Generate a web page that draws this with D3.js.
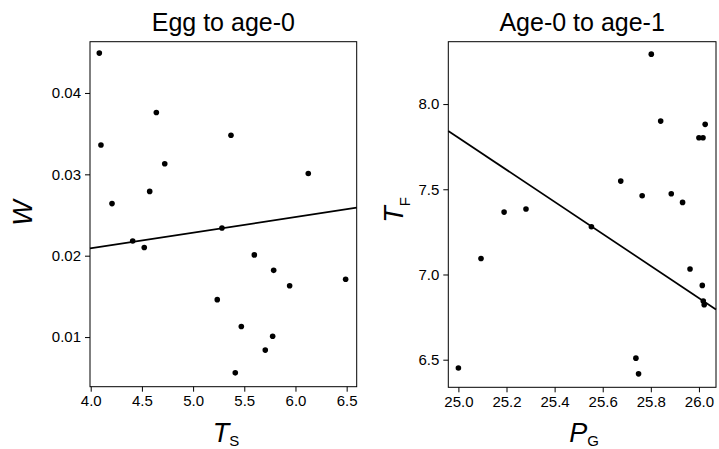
<!doctype html>
<html>
<head>
<meta charset="utf-8"/>
<title>Egg to age-0 / Age-0 to age-1</title>
<script src="https://d3js.org/d3.v7.min.js"></script>
<style>
  body { margin: 0; background: #fff; }
  svg text { font-family: "Liberation Sans", Arial, Helvetica, sans-serif; fill: #000; }
</style>
</head>
<body>
<script>
// ---- data ----
var eggTs = [4.084, 4.10, 4.208, 4.41, 4.523, 4.576, 4.641, 4.723, 5.236, 5.282,
             5.370, 5.412, 5.471, 5.598, 5.705, 5.777, 5.787, 5.943, 6.125, 6.49];
var eggW  = [0.0449, 0.0336, 0.0264, 0.0218, 0.0210, 0.0279, 0.0376, 0.0313, 0.0146, 0.0234,
             0.0348, 0.0056, 0.0113, 0.0201, 0.0084, 0.0101, 0.0182, 0.0163, 0.0301, 0.0171];
var eggFitX = [3.993, 6.598];
var eggFitY = [0.0209, 0.0259];
var eggXTicks = [4.0, 4.5, 5.0, 5.5, 6.0, 6.5];
var eggYTicks = [0.01, 0.02, 0.03, 0.04];

var ageP = [25.0, 25.094, 25.19, 25.281, 25.553, 25.675, 25.738, 25.749, 25.764, 25.802,
            25.841, 25.885, 25.932, 25.963, 26.0, 26.017, 26.026, 26.014, 26.018, 26.022];
var ageT = [6.451, 7.094, 7.366, 7.384, 7.280, 7.548, 6.509, 6.417, 7.462, 8.293,
            7.900, 7.474, 7.423, 7.032, 7.802, 7.802, 7.881, 6.936, 6.844, 6.822];
var ageFitX = [24.958, 26.071];
var ageFitY = [7.842, 6.795];
var ageXTicks = [25.0, 25.2, 25.4, 25.6, 25.8, 26.0];
var ageYTicks = [6.5, 7.0, 7.5, 8.0];

var svg = d3.select("body").append("svg")
    .attr("width", 719)
    .attr("height", 449);

function panel(opt)
{
  var x = d3.scaleLinear().domain(opt.xDom).range([opt.left, opt.right]);
  var y = d3.scaleLinear().domain(opt.yDom).range([opt.bottom, opt.top]);
  var g = svg.append("g");

  // box
  g.append("rect")
    .attr("x", opt.left).attr("y", opt.top)
    .attr("width", opt.right - opt.left).attr("height", opt.bottom - opt.top)
    .attr("fill", "none").attr("stroke", "#000").attr("stroke-width", 1);

  var ax = g.append("g")
    .attr("transform", "translate(0," + opt.bottom + ")")
    .call(d3.axisBottom(x).tickValues(opt.xTicks).tickFormat(d3.format(opt.xFmt))
      .tickSizeOuter(0).tickSize(5).tickPadding(4));
  var ay = g.append("g")
    .attr("transform", "translate(" + opt.left + ",0)")
    .call(d3.axisLeft(y).tickValues(opt.yTicks).tickFormat(d3.format(opt.yFmt))
      .tickSizeOuter(0).tickSize(5).tickPadding(4));
  [ax, ay].forEach(function(a) {
    a.select(".domain").remove();
    a.selectAll("text").style("font-size", "15px").style("font-family", null);
  });

  // fit line
  var line = d3.line().x(function(d) { return x(d[0]); }).y(function(d) { return y(d[1]); });
  g.append("path")
    .attr("d", line(opt.fitX.map(function(v, i) { return [v, opt.fitY[i]]; })))
    .attr("fill", "none").attr("stroke", "#000").attr("stroke-width", 1.7);

  // points
  g.selectAll("circle.pt")
    .data(opt.xs.map(function(v, i) { return [v, opt.ys[i]]; }))
    .enter().append("circle")
    .attr("cx", function(d) { return x(d[0]); })
    .attr("cy", function(d) { return y(d[1]); })
    .attr("r", 2.8)
    .attr("fill", "#000");

  // title
  g.append("text")
    .attr("x", (opt.left + opt.right) / 2).attr("y", 31)
    .attr("text-anchor", "middle")
    .style("font-size", "25px")
    .text(opt.title);

  // x label
  var xl = g.append("text")
    .attr("x", opt.xLabX).attr("y", 442)
    .attr("text-anchor", "middle")
    .style("font-size", "27px");
  xl.append("tspan").style("font-style", "italic").text(opt.xLab[0]);
  xl.append("tspan").attr("dy", 4).style("font-size", "15px").text(opt.xLab[1]);

  // y label
  var yl = g.append("text")
    .attr("transform", "translate(" + opt.yLabX + "," + opt.yLabY + ") rotate(-90)")
    .attr("text-anchor", "middle")
    .style("font-size", "27px");
  yl.append("tspan").style("font-style", "italic").text(opt.yLab[0]);
  if (opt.yLab[1]) {
    yl.append("tspan").attr("dy", 7).style("font-size", "15px").text(opt.yLab[1]);
  }
}

panel({
  left: 90, right: 356.7, top: 41.7, bottom: 386.7,
  xDom: [3.993, 6.598], yDom: [0.0039, 0.0463],
  xTicks: eggXTicks, yTicks: eggYTicks, xFmt: ".1f", yFmt: ".2f",
  xs: eggTs, ys: eggW, fitX: eggFitX, fitY: eggFitY,
  title: "Egg to age-0",
  xLab: ["T", "S"], xLabX: 226,
  yLab: ["W", ""], yLabX: 32, yLabY: 213
});

panel({
  left: 448.3, right: 716, top: 41.7, bottom: 387.3,
  xDom: [24.958, 26.071], yDom: [6.338, 8.366],
  xTicks: ageXTicks, yTicks: ageYTicks, xFmt: ".1f", yFmt: ".1f",
  xs: ageP, ys: ageT, fitX: ageFitX, fitY: ageFitY,
  title: "Age-0 to age-1",
  xLab: ["P", "G"], xLabX: 584,
  yLab: ["T", "F"], yLabX: 403, yLabY: 210
});
</script>
</body>
</html>
